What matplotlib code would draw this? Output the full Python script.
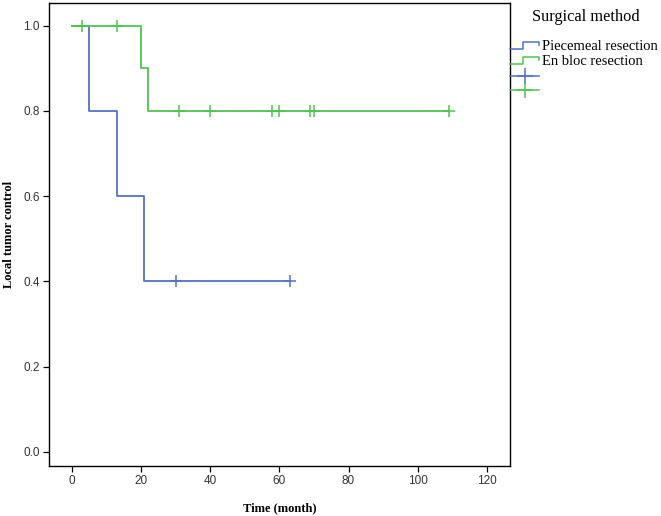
import matplotlib
matplotlib.use("Agg")
import matplotlib.pyplot as plt
from matplotlib.lines import Line2D
from matplotlib.legend_handler import HandlerBase

BLUE = "#5570c6"
GREEN = "#50c450"

# Kaplan-Meier steps (time in months, survival)
piecemeal_t = [0, 5, 13, 21, 63]
piecemeal_s = [1.0, 0.8, 0.6, 0.4, 0.4]
piecemeal_cens_t = [30, 63]
piecemeal_cens_s = [0.4, 0.4]

enbloc_t = [0, 20, 22, 109]
enbloc_s = [1.0, 0.9, 0.8, 0.8]
enbloc_cens_t = [3, 13, 31, 40, 58, 60, 69, 70, 109]
enbloc_cens_s = [1.0, 1.0, 0.8, 0.8, 0.8, 0.8, 0.8, 0.8, 0.8]

x_ticks = [0, 20, 40, 60, 80, 100, 120]
y_ticks = [0.0, 0.2, 0.4, 0.6, 0.8, 1.0]


class StepHandler(HandlerBase):
    def create_artists(self, legend, orig, xd, yd, w, h, fs, trans):
        y0, y1 = -yd + 0.1 * h, -yd + 0.8 * h
        xs = [-xd, -xd + 0.45 * w, -xd + 0.45 * w, -xd + w, -xd + w]
        ys = [y0, y0, y1, y1, y1 - 0.3 * h]
        ln = Line2D(xs, ys, color=orig.get_color(), lw=1.1, transform=trans)
        return [ln]


class PlusHandler(HandlerBase):
    def create_artists(self, legend, orig, xd, yd, w, h, fs, trans):
        yc = -yd + 0.45 * h
        ln = Line2D([-xd, -xd + w], [yc, yc], color=orig.get_color(), lw=1.1,
                    transform=trans)
        mk = Line2D([-xd + 0.5 * w], [yc], color=orig.get_color(), marker="+",
                    ms=11, mew=1.1, ls="none", transform=trans)
        return [ln, mk]


fig = plt.figure(figsize=(6.61, 5.16), dpi=100)
ax = fig.add_axes([0.0741, 0.0969, 0.6975, 0.8973])

ax.step(piecemeal_t, piecemeal_s, where="post", color=BLUE, lw=1.3)
ax.step(enbloc_t, enbloc_s, where="post", color=GREEN, lw=1.3)
ax.plot(piecemeal_cens_t, piecemeal_cens_s, ls="none", marker="+",
        color=BLUE, ms=8, mew=1.1)
ax.plot(enbloc_cens_t, enbloc_cens_s, ls="none", marker="+",
        color=GREEN, ms=8, mew=1.1)

ax.set_xlim(-6.6, 126.7)
ax.set_ylim(-0.033, 1.053)
ax.set_xticks(x_ticks)
ax.set_yticks(y_ticks)
ax.set_yticklabels([f"{v:.1f}" for v in y_ticks])
ax.tick_params(direction="out", length=4.5, width=0.9, labelsize=8.5,
               colors="black", pad=2)
for lab in ax.get_xticklabels() + ax.get_yticklabels():
    lab.set_family("Liberation Sans")
    lab.set_color("#333333")
for sp in ax.spines.values():
    sp.set_linewidth(1.0)

ax.set_xlabel("Time (month)", family="Liberation Serif", fontweight="bold",
              fontsize=9, labelpad=11)
ax.set_ylabel("Local tumor control", family="Liberation Serif",
              fontweight="bold", fontsize=9, labelpad=6)

# legend
fig.text(586 / 661, 1 - 17 / 516, "Surgical method", family="Liberation Serif",
         fontsize=11.8, ha="center", va="center")
h_pm = Line2D([], [], color=BLUE)
h_eb = Line2D([], [], color=GREEN)
h_pmc = Line2D([], [], color=BLUE, marker="+")
h_ebc = Line2D([], [], color=GREEN, marker="+")
leg = fig.legend([h_pm, h_eb, h_pmc, h_ebc],
                 ["Piecemeal resection", "En bloc resection", " ", " "],
                 handler_map={h_pm: StepHandler(), h_eb: StepHandler(),
                              h_pmc: PlusHandler(), h_ebc: PlusHandler()},
                 loc="upper left", bbox_to_anchor=(510 / 661, 1 - 40 / 516),
                 frameon=False,
                 prop={"family": "Liberation Serif", "size": 10.5},
                 handlelength=2.0, handletextpad=0.2, labelspacing=0.12,
                 borderpad=0, borderaxespad=0)

fig.savefig("out.png", dpi=100)
